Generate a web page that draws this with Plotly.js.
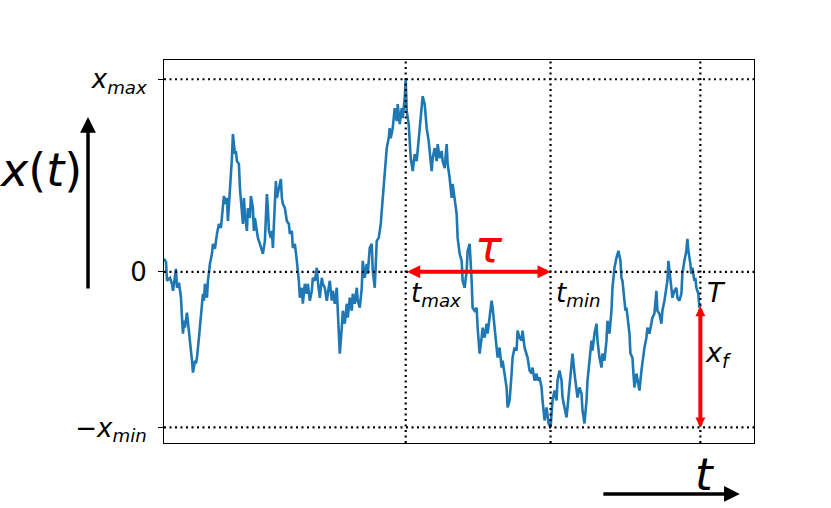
<!DOCTYPE html>
<html>
<head>
<meta charset="utf-8">
<script src="https://cdn.plot.ly/plotly-3.0.1.min.js"></script>
<style>html,body{margin:0;padding:0;background:#fff;}#chart{width:831px;height:508px;}</style>
</head>
<body>
<div id="chart"></div>
<script>
// time steps and path values of the sampled walk (arbitrary units)
const t = [0,2,3,6,8,9,12,13,15,17,18,19,20,21,23,25,27,28,29,31,32,33,35,37,39,40,41,43,44,46,48,49,51,53,55,57,59,60,61,63,64,65,67,68,69,71,72,73,75,76,77,79,80,81,83,84,86,87,89,90,
91,93,94,96,98,99,101,103,104,105,107,108,109,111,112,113,115,117,118,119,121,123,125,126,128,129,131,132,133,135,136,138,139,141,143,144,146,148,149,151,153,154,156,158,159,161,163,164,166,168,169,171,173,174,175,176,
178,179,181,183,184,186,188,189,191,193,194,196,198,199,201,203,204,206,208,209,211,212,213,215,217,218,219,221,222,223,225,226,227,229,230,231,233,234,236,238,239,241,242,243,245,246,247,249,250,251,253,254,255,257,258,259,261,262,263,265,266,
268,269,271,273,274,276,278,279,281,283,284,286,288,289,291,293,294,296,298,299,301,303,304,306,308,309,311,313,314,316,318,319,321,323,324,326,328,329,331,333,334,336,338,339,341,343,344,346,348,349,351,353,354,
356,358,359,361,363,364,366,368,369,371,373,374,376,378,379,381,383,384,385,387,388,389,391,393,394,396,398,399,401,403,404,406,408,409,411,413,414,416,418,419,421,423,424,426,428,429,431,433,434,436,438,439,441,443,444,446,
448,449,451,453,454,455,457,458,459,461,462,463,465,466,467,469,470,471,473,474,476,478,479,481,483,484,486,488,489,491,493,494,496,498,499,501,503,504,505,507,508,509,511,513,514,516,518,519,521,523,524,525,527,528,529,531,532,533,535,536,537];
const x = [13,10,-9,-6,-12,-19,3,-16,-11,-26,-46,-62,-49,-56,-41,-59,-76,-89,-101,-89,-92,-86,-66,-42,-22,-29,-12,-26,-9,8,18,28,23,38,48,44,64,76,68,74,51,71,98,114,138,118,121,111,108,84,74,48,74,58,41,64,54,76,64,41,
54,38,34,28,21,18,31,78,64,41,34,41,24,68,91,74,84,93,74,68,64,51,48,38,41,24,28,21,11,-9,-26,-16,-32,-12,-22,-12,-29,-19,-6,-9,4,-9,-26,-6,-12,-16,-29,-22,-9,-29,-19,-32,-16,-39,-62,-82,
-56,-39,-52,-32,-46,-26,-39,-22,-32,-16,-29,-36,-16,11,-6,8,-2,24,28,1,-16,14,31,34,48,61,74,91,108,124,134,144,134,144,154,164,151,168,148,164,154,174,193,161,148,128,114,101,111,118,111,121,134,151,168,176,168,154,144,131,118,
101,114,124,111,128,114,121,111,104,128,108,94,74,88,74,58,34,18,11,-9,-16,1,21,28,-9,-36,-39,-36,-56,-82,-66,-56,-66,-52,-62,-42,-29,-36,-59,-76,-86,-76,-96,-89,-102,-116,-136,-129,-102,-86,-76,-79,-59,
-66,-69,-59,-76,-82,-86,-99,-102,-96,-109,-102,-109,-106,-116,-129,-149,-136,-146,-152,-156,-142,-129,-119,-129,-109,-99,-109,-126,-136,-146,-136,-116,-96,-82,-102,-116,-126,-116,-122,-139,-152,-129,-109,-89,-69,-79,-62,-52,-69,-86,-96,-82,-89,-69,-49,-62,
-39,-16,4,14,18,21,11,-6,-9,-29,-39,-36,-52,-62,-82,-86,-102,-116,-102,-109,-119,-99,-89,-76,-66,-56,-62,-49,-46,-42,-19,-39,-42,-52,-39,-29,-12,-9,11,-6,-19,-26,-19,-16,-26,-29,-22,-2,11,21,33,21,8,-2,4,-9,-6,-16,-22,-36,-33];

// key quantities
const tMax = 242, tMin = 387, T = 537;
const xMax = 193, xMin = 156, xF = -33;
const yTickVals = [-xMin, 0, xMax];
const yTickText = ['\u2212<i>x</i><sub><i>min</i></sub>', '0', '<i>x</i><sub><i>max</i></sub>'];

const FONT = 'DejaVu Sans';
const dotted = {color: 'black', width: 2.2, dash: '2px,3.5px'};

const shapes = [];
[xMax, 0, -xMin].forEach(v => shapes.push({type: 'line', xref: 'paper', x0: 0, x1: 1, yref: 'y', y0: v, y1: v, line: dotted, layer: 'above'}));
[tMax, tMin, T].forEach(v => shapes.push({type: 'line', yref: 'paper', y0: 0, y1: 1, xref: 'x', x0: v, x1: v, line: dotted, layer: 'above'}));

const annotations = [
  // tau double arrow
  {xref: 'x', yref: 'y', axref: 'x', ayref: 'y', x: tMin, y: 0, ax: tMax, ay: 0, text: '', showarrow: true,
   arrowside: 'end+start', arrowhead: 2, startarrowhead: 2, arrowsize: 0.65, startarrowsize: 0.65, arrowwidth: 4, arrowcolor: 'red', standoff: 0, startstandoff: 0},
  // x_f double arrow
  {xref: 'x', yref: 'y', axref: 'x', ayref: 'y', x: T, y: -xMin, ax: T, ay: xF, text: '', showarrow: true,
   arrowside: 'end+start', arrowhead: 2, startarrowhead: 2, arrowsize: 0.5, startarrowsize: 0.5, arrowwidth: 4, arrowcolor: 'red', standoff: 0, startstandoff: 0},
  // axis arrows
  {xref: 'paper', yref: 'paper', x: -0.1288, y: 0.851, ax: 0, ay: 173, text: '', showarrow: true, arrowhead: 2, arrowsize: 0.9, arrowwidth: 3.5, arrowcolor: 'black', standoff: 0},
  {xref: 'paper', yref: 'paper', x: 0.976, y: -0.133, ax: -138, ay: 0, text: '', showarrow: true, arrowhead: 2, arrowsize: 0.9, arrowwidth: 3.5, arrowcolor: 'black', standoff: 0},
  // labels
  {xref: 'x', yref: 'y', x: (tMax + tMin) / 2, y: 0, text: '<i>\u03c4</i>', showarrow: false, xanchor: 'left', yanchor: 'bottom', xshift: -5, yshift: -3, font: {family: FONT, size: 45, color: 'red'}},
  {xref: 'x', yref: 'y', x: tMax, y: 0, text: '<i>t</i><sub><i>max</i></sub>', showarrow: false, xanchor: 'left', yanchor: 'top', xshift: 3, yshift: -4, font: {family: FONT, size: 26, color: 'black'}},
  {xref: 'x', yref: 'y', x: tMin, y: 0, text: '<i>t</i><sub><i>min</i></sub>', showarrow: false, xanchor: 'left', yanchor: 'top', xshift: 3, yshift: -4, font: {family: FONT, size: 26, color: 'black'}},
  {xref: 'x', yref: 'y', x: T, y: 0, text: '<i>T</i>', showarrow: false, xanchor: 'left', yanchor: 'top', xshift: 5, yshift: -3, font: {family: FONT, size: 27, color: 'black'}},
  {xref: 'x', yref: 'y', x: T, y: (xF - xMin) / 2, text: '<i>x</i><sub><i>f</i></sub>', showarrow: false, xanchor: 'left', yanchor: 'middle', xshift: 3, yshift: 12, font: {family: FONT, size: 27, color: 'black'}},
  {xref: 'paper', yref: 'paper', x: -0.2085, y: 0.7128, text: '<i>x</i>(<i>t</i>)', showarrow: false, xanchor: 'center', yanchor: 'middle', font: {family: FONT, size: 46, color: 'black'}},
  {xref: 'paper', yref: 'paper', x: 0.917, y: -0.081, text: '<i>t</i>', showarrow: false, xanchor: 'center', yanchor: 'middle', font: {family: FONT, size: 45, color: 'black'}}
];

const data = [{type: 'scatter', mode: 'lines', x: t, y: x, line: {color: '#1f77b4', width: 2.6}, hoverinfo: 'skip'}];

const layout = {
  width: 831, height: 508,
  margin: {l: 164, r: 77, t: 60, b: 65},
  paper_bgcolor: 'white', plot_bgcolor: 'white',
  showlegend: false,
  font: {family: FONT, color: 'black'},
  xaxis: {range: [0, 1.1 * T], showgrid: false, zeroline: false, showticklabels: false, ticks: '',
          showline: true, mirror: true, linecolor: 'black', linewidth: 1},
  yaxis: {range: [-1.1 * xMin, 1.1 * xMax], showgrid: false, zeroline: false,
          tickvals: yTickVals, ticktext: yTickText, ticks: 'outside', ticklen: 5, tickwidth: 1, tickcolor: 'black',
          tickfont: {family: FONT, size: 26, color: 'black'}, ticklabelstandoff: 6,
          showline: true, mirror: true, linecolor: 'black', linewidth: 1},
  shapes: shapes,
  annotations: annotations
};

Plotly.newPlot('chart', data, layout, {staticPlot: true});
</script>
</body>
</html>
